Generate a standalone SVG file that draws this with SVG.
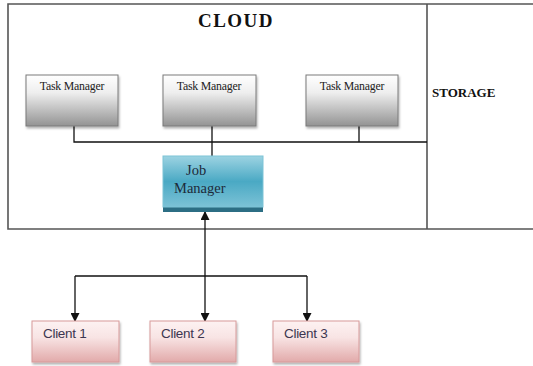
<svg xmlns="http://www.w3.org/2000/svg" width="533" height="366" viewBox="0 0 533 366">
<style>
.frame{fill:none;stroke:#555;stroke-width:1.6}
.conn{fill:none;stroke:#111;stroke-width:1.3}
.tm{fill:url(#gTM);stroke:#7a7a7a;stroke-width:1}
.cl{fill:url(#gCL);stroke:#d79a9a;stroke-width:1}
.tmt{font-family:"Liberation Serif",serif;font-size:11.8px;fill:#222;text-anchor:middle;letter-spacing:-0.2px}
.ct{font-family:"Liberation Sans",sans-serif;font-size:13.5px;fill:#3c3650;letter-spacing:-0.3px}
.bold{font-family:"Liberation Serif",serif;font-weight:bold;fill:#111}
</style>
<defs>
<linearGradient id="gTM" x1="0" y1="0" x2="0" y2="1">
<stop offset="0" stop-color="#ffffff"/><stop offset="0.35" stop-color="#eeeeee"/><stop offset="1" stop-color="#939393"/>
</linearGradient>
<linearGradient id="gJM" x1="0" y1="0" x2="0" y2="1">
<stop offset="0" stop-color="#9dd3e2"/><stop offset="0.5" stop-color="#4aa9c4"/><stop offset="1" stop-color="#7cc2d6"/>
</linearGradient>
<linearGradient id="gCL" x1="0" y1="0" x2="0" y2="1">
<stop offset="0" stop-color="#fdf2f2"/><stop offset="0.4" stop-color="#f8e4e4"/><stop offset="1" stop-color="#e2aaaa"/>
</linearGradient>
<filter id="sh" x="-10%" y="-10%" width="130%" height="140%">
<feDropShadow dx="1" dy="2" stdDeviation="1" flood-color="#000" flood-opacity="0.3"/>
</filter>
<marker id="ah" markerWidth="9" markerHeight="9" refX="8" refY="4.5" orient="auto" markerUnits="userSpaceOnUse">
<path d="M0,0 L9,4.5 L0,9 Z" fill="#111"/>
</marker>
</defs>
<g id="cloud">
<path class="frame" d="M533,4 H8 V229 H533 M427,4 V229"/>
<text class="bold" x="236" y="27" font-size="19" letter-spacing="1.5" text-anchor="middle">CLOUD</text>
</g>
<g id="storage">
<text class="bold" x="432" y="97" font-size="13">STORAGE</text>
</g>
<g id="connectors">
<path class="conn" d="M74,126 V142 H427 M212,126 V156 M359,126 V142"/>
<path class="conn" d="M205,276 V212" marker-end="url(#ah)"/>
<path class="conn" d="M75,276 H307"/>
<path class="conn" d="M75,276 V321" marker-end="url(#ah)"/>
<path class="conn" d="M205,276 V321" marker-end="url(#ah)"/>
<path class="conn" d="M307,276 V321" marker-end="url(#ah)"/>
</g>
<g id="tm1">
<rect class="tm" x="26" y="75" width="92" height="51" filter="url(#sh)"/>
<text class="tmt" x="72" y="90">Task Manager</text>
</g>
<g id="tm2">
<rect class="tm" x="163" y="75" width="93" height="51" filter="url(#sh)"/>
<text class="tmt" x="209" y="90">Task Manager</text>
</g>
<g id="tm3">
<rect class="tm" x="306" y="75" width="92" height="51" filter="url(#sh)"/>
<text class="tmt" x="352" y="90">Task Manager</text>
</g>
<g id="jm">
<rect x="163" y="156" width="100" height="56" fill="#2c6e84"/>
<rect x="163" y="156" width="100" height="51" fill="url(#gJM)" stroke="#7cc3d6" stroke-width="1"/>
<text font-family="Liberation Serif,serif" font-size="14.5" fill="#1d2a3a" x="186" y="175">Job</text>
<text font-family="Liberation Serif,serif" font-size="14.5" fill="#1d2a3a" x="174" y="193">Manager</text>
</g>
<g id="client1">
<rect class="cl" x="32" y="321" width="87" height="41" filter="url(#sh)"/>
<text class="ct" x="43" y="338">Client 1</text>
</g>
<g id="client2">
<rect class="cl" x="150" y="321" width="86" height="41" filter="url(#sh)"/>
<text class="ct" x="161" y="338">Client 2</text>
</g>
<g id="client3">
<rect class="cl" x="273" y="321" width="86" height="41" filter="url(#sh)"/>
<text class="ct" x="284" y="338">Client 3</text>
</g>
</svg>
